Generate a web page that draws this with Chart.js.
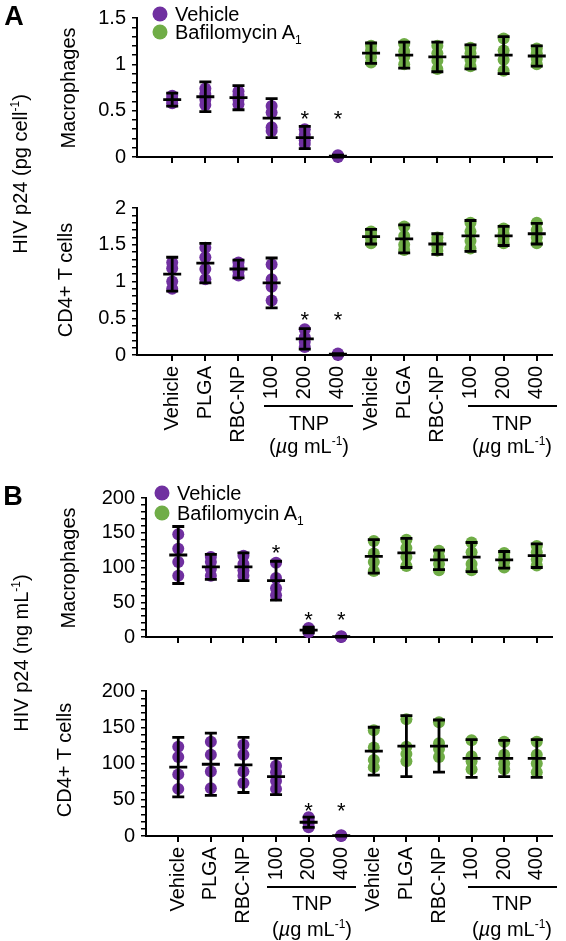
<!doctype html>
<html>
<head>
<title>HIV p24</title>
<script src="https://cdn.jsdelivr.net/npm/chart.js@4.4.1/dist/chart.umd.min.js"></script>
<style>
    body { margin: 0; background: #fff; font-family: 'Liberation Sans', Arial, sans-serif; }
    #wrap { position: relative; width: 566px; height: 941px; overflow: hidden; }
    canvas { position: absolute; left: 0; }
    .t { position: absolute; white-space: nowrap; color: #000; font-size: 20px; line-height: 1; transform: translate(-50%, -50%); }
    .rot { transform: translate(-50%, -50%) rotate(-90deg); }
    .big { font-weight: bold; font-size: 27px; }
    .dot { position: absolute; width: 15px; height: 15px; border-radius: 50%; transform: translate(-50%, -50%); }
    .leg { position: absolute; white-space: nowrap; font-size: 20px; line-height: 1; transform: translateY(-50%); }
    .bar { position: absolute; height: 0; border-top: 2px solid #000; }
    sup, sub { font-size: 0.6em; line-height: 0; }
</style>
</head>
<body>
<div id="wrap">
    <canvas id="aMac" width="566" height="175" style="top:0px"></canvas>
    <canvas id="aCd4" width="566" height="260" style="top:190px"></canvas>
    <canvas id="bMac" width="566" height="175" style="top:480px"></canvas>
    <canvas id="bCd4" width="566" height="268" style="top:673px"></canvas>

    <div class="t big" style="left:14px;top:16px">A</div>
    <div class="t big" style="left:13px;top:496px">B</div>

    <div class="t rot" style="left:20px;top:174px">HIV p24 (pg cell<sup>-1</sup>)</div>
    <div class="t rot" style="left:68px;top:88px">Macrophages</div>
    <div class="t rot" style="left:65px;top:280px">CD4+ T cells</div>
    <div class="t rot" style="left:21px;top:653px">HIV p24 (ng mL<sup>-1</sup>)</div>
    <div class="t rot" style="left:68px;top:568px">Macrophages</div>
    <div class="t rot" style="left:64px;top:760px">CD4+ T cells</div>

    <div class="dot" style="left:160px;top:14px;background:#7030A0"></div>
    <div class="leg" style="left:175px;top:14px">Vehicle</div>
    <div class="dot" style="left:160px;top:32px;background:#70AD47"></div>
    <div class="leg" style="left:175px;top:32px">Bafilomycin A<sub>1</sub></div>
    <div class="dot" style="left:162px;top:493px;background:#7030A0"></div>
    <div class="leg" style="left:177px;top:493px">Vehicle</div>
    <div class="dot" style="left:162px;top:513px;background:#70AD47"></div>
    <div class="leg" style="left:177px;top:513px">Bafilomycin A<sub>1</sub></div>

    <div class="bar" style="left:264px;width:89px;top:405px"></div>
    <div class="bar" style="left:468px;width:89px;top:405px"></div>
    <div class="t" style="left:309px;top:423px">TNP</div>
    <div class="t" style="left:512px;top:423px">TNP</div>
    <div class="t" style="left:309px;top:446px">(<i>µ</i>g mL<sup>-1</sup>)</div>
    <div class="t" style="left:512px;top:446px">(<i>µ</i>g mL<sup>-1</sup>)</div>

    <div class="bar" style="left:267px;width:89px;top:886px"></div>
    <div class="bar" style="left:468px;width:89px;top:886px"></div>
    <div class="t" style="left:312px;top:903px">TNP</div>
    <div class="t" style="left:512px;top:903px">TNP</div>
    <div class="t" style="left:312px;top:929px">(<i>µ</i>g mL<sup>-1</sup>)</div>
    <div class="t" style="left:512px;top:929px">(<i>µ</i>g mL<sup>-1</sup>)</div>
</div>
<script>
    var groupLabels = ['Vehicle', 'PLGA', 'RBC-NP', '100', '200', '400',
        'Vehicle', 'PLGA', 'RBC-NP', '100', '200', '400'];

    // A, macrophages (pg cell-1)
    var aMacVehMean = [0.62, 0.65, 0.64, 0.42, 0.21, 0.01];
    var aMacVehSD = [0.07, 0.16, 0.13, 0.21, 0.12, 0.01];
    var aMacVehPts = [[0.58, 0.61, 0.63, 0.66], [0.56, 0.62, 0.68, 0.74], [0.57, 0.62, 0.67, 0.71],
        [0.28, 0.32, 0.48, 0.55], [0.14, 0.18, 0.24, 0.30], [0, 0.01, 0.02]];
    var aMacBafMean = [1.12, 1.10, 1.08, 1.08, 1.10, 1.09];
    var aMacBafSD = [0.11, 0.14, 0.16, 0.13, 0.20, 0.11];
    var aMacBafPts = [[1.02, 1.08, 1.15, 1.20], [1.00, 1.08, 1.14, 1.22], [0.95, 1.04, 1.12, 1.20],
        [0.98, 1.05, 1.12, 1.18], [0.93, 1.05, 1.15, 1.28], [1.00, 1.06, 1.12, 1.17]];
    var aMacStars = [null, null, null, null, 0.46, 0.46, null, null, null, null, null, null];

    // A, CD4+ T cells (pg cell-1)
    var aCd4VehMean = [1.10, 1.25, 1.17, 0.98, 0.22, 0.01];
    var aCd4VehSD = [0.23, 0.27, 0.12, 0.34, 0.14, 0.01];
    var aCd4VehPts = [[0.90, 1.00, 1.18, 1.26], [1.03, 1.17, 1.33, 1.46], [1.08, 1.14, 1.20, 1.26],
        [0.74, 0.93, 1.03, 1.23], [0.11, 0.18, 0.24, 0.35], [0, 0.01, 0.02]];
    var aCd4BafMean = [1.61, 1.58, 1.51, 1.62, 1.62, 1.65];
    var aCd4BafSD = [0.10, 0.19, 0.14, 0.21, 0.13, 0.14];
    var aCd4BafPts = [[1.52, 1.58, 1.64, 1.68], [1.43, 1.50, 1.62, 1.75], [1.42, 1.48, 1.55, 1.60],
        [1.45, 1.55, 1.68, 1.80], [1.52, 1.58, 1.65, 1.72], [1.52, 1.60, 1.70, 1.80]];
    var aCd4Stars = [null, null, null, null, 0.55, 0.55, null, null, null, null, null, null];

    // B, macrophages (ng mL-1)
    var bMacVehMean = [118, 101, 101, 81, 10, 0.5];
    var bMacVehSD = [41, 18, 20, 28, 4, 0.5];
    var bMacVehPts = [[88, 108, 127, 148], [88, 98, 108, 115], [88, 96, 105, 117],
        [60, 70, 85, 107], [7, 9, 11, 13], [0, 0.5, 1]];
    var bMacBafMean = [116, 121, 111, 115, 111, 117];
    var bMacBafSD = [24, 21, 14, 21, 12, 17];
    var bMacBafPts = [[95, 108, 120, 138], [102, 115, 128, 140], [96, 105, 115, 124],
        [96, 105, 122, 136], [100, 108, 114, 121], [103, 112, 122, 131]];
    var bMacStars = [null, null, null, 128, 31, 31, null, null, null, null, null, null];

    // B, CD4+ T cells (ng mL-1)
    var bCd4VehMean = [95, 99, 98, 82, 19, 0.5];
    var bCd4VehSD = [41, 43, 38, 25, 7, 0.5];
    var bCd4VehPts = [[65, 85, 109, 123], [66, 89, 112, 130], [73, 89, 112, 126],
        [65, 76, 88, 97], [12, 17, 21, 26], [0, 0.5, 1]];
    var bCd4BafMean = [117, 124, 124, 107, 107, 107];
    var bCd4BafSD = [33, 42, 36, 26, 25, 26];
    var bCd4BafPts = [[95, 105, 122, 146], [103, 113, 123, 161], [109, 120, 128, 157],
        [92, 103, 110, 132], [92, 100, 112, 130], [88, 100, 112, 130]];
    var bCd4Stars = [null, null, null, null, 42, 42, null, null, null, null, null, null];

    var purple = '#7030A0';
    var green = '#70AD47';
    var fam = "'Liberation Sans', Arial, sans-serif";

    // mean line, SD whiskers and asterisks
    var marks = {
        id: 'marks',
        afterDatasetsDraw: function (chart, args, opts) {
            var xs = chart.scales.x, ys = chart.scales.y, ctx = chart.ctx;
            ctx.save();
            ctx.strokeStyle = '#000';
            ctx.lineWidth = 2.8;
            opts.mean.forEach(function (m, i) {
                var px = xs.getPixelForValue(i);
                var pm = ys.getPixelForValue(m);
                var hi = ys.getPixelForValue(m + opts.sd[i]);
                var lo = ys.getPixelForValue(Math.max(0, m - opts.sd[i]));
                ctx.beginPath();
                ctx.moveTo(px, lo); ctx.lineTo(px, hi);
                ctx.moveTo(px - 6, hi); ctx.lineTo(px + 6, hi);
                ctx.moveTo(px - 6, lo); ctx.lineTo(px + 6, lo);
                ctx.moveTo(px - 9, pm); ctx.lineTo(px + 9, pm);
                ctx.stroke();
            });
            ctx.fillStyle = '#000';
            ctx.font = '22px ' + fam;
            ctx.textAlign = 'center';
            opts.stars.forEach(function (s, i) {
                if (s == null) return;
                ctx.fillText('*', xs.getPixelForValue(i), ys.getPixelForValue(s) + 12);
            });
            ctx.restore();
        }
    };

    function toPoints(lists, offset) {
        var out = [];
        lists.forEach(function (list, i) {
            list.forEach(function (v) { out.push({ x: i + offset, y: v }); });
        });
        return out;
    }

    function makePanel(id, p) {
        new Chart(document.getElementById(id), {
            type: 'scatter',
            data: {
                datasets: [
                    { label: 'Vehicle', data: toPoints(p.vehPts, 0), backgroundColor: purple, borderWidth: 0, pointRadius: 6, clip: false },
                    { label: 'Bafilomycin A1', data: toPoints(p.bafPts, 6), backgroundColor: green, borderWidth: 0, pointRadius: 6, clip: false }
                ]
            },
            options: {
                responsive: false,
                animation: false,
                events: [],
                layout: { padding: { top: 15, right: 4, left: 0, bottom: 0 } },
                plugins: {
                    legend: { display: false },
                    tooltip: { enabled: false },
                    marks: { mean: p.vehMean.concat(p.bafMean), sd: p.vehSD.concat(p.bafSD), stars: p.stars }
                },
                scales: {
                    x: {
                        type: 'linear', min: p.xMin, max: p.xMax,
                        afterBuildTicks: function (s) { s.ticks = groupLabels.map(function (l, i) { return { value: i }; }); },
                        afterFit: function (s) { s.height = p.xH; },
                        grid: { drawOnChartArea: false, drawTicks: true, tickLength: 6, color: '#000', lineWidth: 2 },
                        border: { display: true, color: '#000', width: 2 },
                        ticks: {
                            autoSkip: false, minRotation: 90, maxRotation: 90, padding: 5, color: '#000',
                            font: { family: fam, size: 20 },
                            callback: function (v) { return p.labels ? groupLabels[v] : ''; }
                        }
                    },
                    y: {
                        min: 0, max: p.yMax,
                        afterFit: function (s) { s.width = p.yW; },
                        grid: { drawOnChartArea: false, tickLength: 5, color: '#000', lineWidth: 1.5 },
                        border: { display: true, color: '#000', width: 2 },
                        ticks: {
                            stepSize: p.minor, autoSkip: false, padding: 6, color: '#000',
                            font: { family: fam, size: 20 },
                            callback: function (v) {
                                var k = v / p.major;
                                return Math.abs(k - Math.round(k)) < 1e-6 ? String(Math.round(k) * p.major) : '';
                            }
                        }
                    }
                }
            },
            plugins: [marks]
        });
    }

    makePanel('aMac', { vehMean: aMacVehMean, vehSD: aMacVehSD, vehPts: aMacVehPts, bafMean: aMacBafMean, bafSD: aMacBafSD, bafPts: aMacBafPts,
        stars: aMacStars, yMax: 1.5, minor: 0.1, major: 0.5, yW: 137, xMin: -1.062, xMax: 11.47, xH: 13, labels: false });
    makePanel('aCd4', { vehMean: aCd4VehMean, vehSD: aCd4VehSD, vehPts: aCd4VehPts, bafMean: aCd4BafMean, bafSD: aCd4BafSD, bafPts: aCd4BafPts,
        stars: aCd4Stars, yMax: 2, minor: 0.1, major: 0.5, yW: 137, xMin: -1.062, xMax: 11.47, xH: 95, labels: true });
    makePanel('bMac', { vehMean: bMacVehMean, vehSD: bMacVehSD, vehPts: bMacVehPts, bafMean: bMacBafMean, bafSD: bMacBafSD, bafPts: bMacBafPts,
        stars: bMacStars, yMax: 200, minor: 10, major: 50, yW: 146, xMin: -0.99, xMax: 11.48, xH: 12, labels: false });
    makePanel('bCd4', { vehMean: bCd4VehMean, vehSD: bCd4VehSD, vehPts: bCd4VehPts, bafMean: bCd4BafMean, bafSD: bCd4BafSD, bafPts: bCd4BafPts,
        stars: bCd4Stars, yMax: 200, minor: 10, major: 50, yW: 146, xMin: -0.99, xMax: 11.48, xH: 105, labels: true });
</script>
</body>
</html>
